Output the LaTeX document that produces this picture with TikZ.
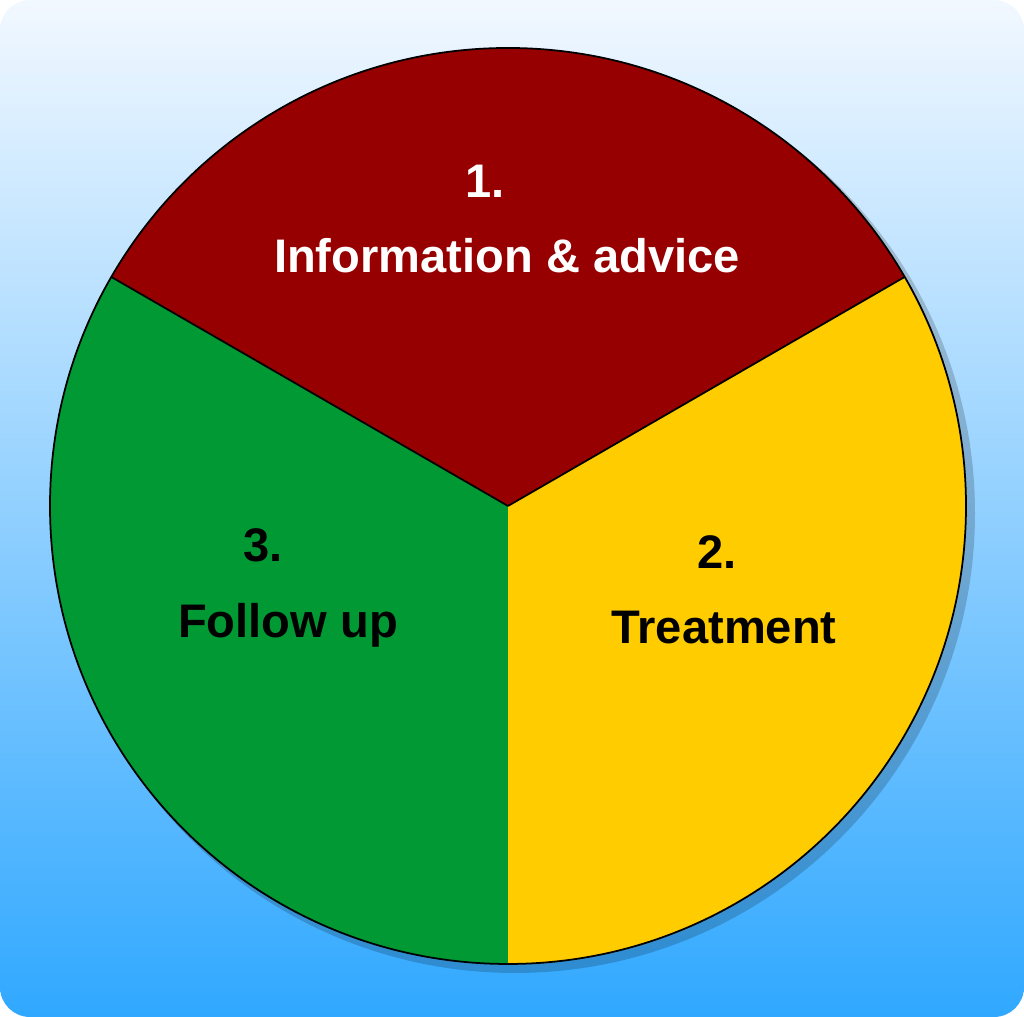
\documentclass[tikz,border=0pt]{standalone}
\usepackage{fontspec}
\setmainfont{Liberation Sans}
\usetikzlibrary{calc}
\definecolor{bgtop}{RGB}{242,248,255}
\definecolor{bgbot}{RGB}{48,168,255}
\definecolor{segred}{RGB}{150,0,0}
\definecolor{segyellow}{RGB}{255,204,0}
\definecolor{seggreen}{RGB}{0,153,51}
\tikzset{
  seglabel/.style={font=\fontsize{13.4}{21.5}\selectfont\bfseries, align=center},
  segment/.style={draw=black, line width=0.5pt}
}
\begin{document}
\begin{tikzpicture}
  % background
  \shade[top color=bgtop, bottom color=bgbot, rounded corners=0.3cm] (0,0) rectangle (10.24,10.17);
  \useasboundingbox (0,0) rectangle (10.24,10.17);
  \coordinate (c) at (5.08,5.11);
  % shadow
  \fill[black, opacity=0.18] ($(c)+(0.07,-0.07)$) circle (4.6);
  % segments
  \fill[segred] (c) -- ++(30:4.58) arc (30:150:4.58) -- cycle;
  \fill[seggreen] (c) -- ++(150:4.58) arc (150:270:4.58) -- cycle;
  \fill[segyellow] (c) -- ++(270:4.58) arc (270:390:4.58) -- cycle;
  \draw[segment] (c) circle (4.58);
  \draw[segment] (c) -- ++(30:4.58);
  \draw[segment] (c) -- ++(150:4.58);
  % labels
  \node[seglabel, text=white] (info) at (5.07,7.98) {1.\hspace*{0.44cm}\\Information \& advice};
  \node[seglabel] (treat) at (7.24,4.27) {2.\hspace*{0.14cm}\\Treatment};
  \node[seglabel] (follow) at (2.88,4.29) {3.\hspace*{0.5cm}\\Follow up};
\end{tikzpicture}
\end{document}
